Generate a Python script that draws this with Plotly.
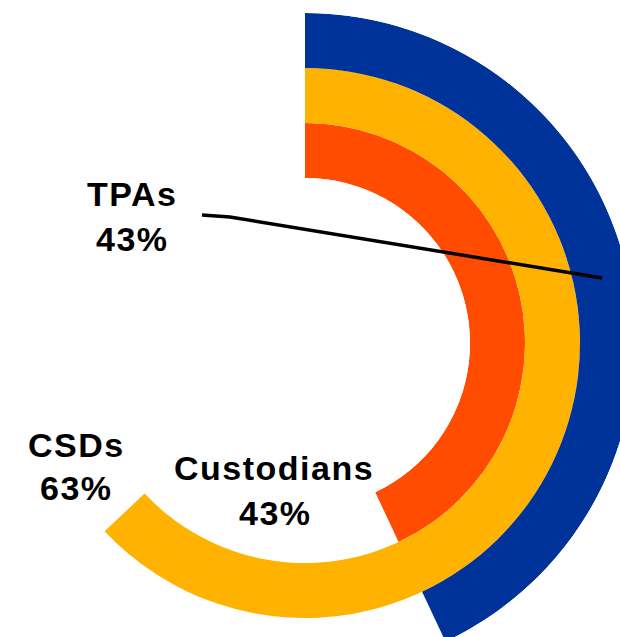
import math
import plotly.graph_objects as go

# ---- data ----
categories = ["Custodians", "CSDs", "TPAs"]
values = [43, 63, 43]          # percent of full circle
ring_index = [0, 1, 2]         # inner -> outer
colors = ["#FF4C00", "#FFB200", "#003399"]
pct_labels = ["43%", "63%", "43%"]

W, H = 640, 680   # canvas slightly larger than the window -> chart is cropped like the reference


def px(x):
    return x / W


def py(y):
    return 1 - y / H


fig = go.Figure()
for cat, v, b, c in zip(categories, values, ring_index, colors):
    span = v * 3.6
    fig.add_trace(go.Barpolar(
        r=[1], base=[b], theta=[span / 2], width=[span],
        marker=dict(color=c, line=dict(width=0)),
        name=cat, showlegend=False, hoverinfo="skip",
    ))

# polar area: center (305,343), outer radius 330, sector [-140, 90]
R, cx, cy = 330, 305, 343
xl = cx + R * math.cos(math.radians(220))
fig.update_layout(
    width=W, height=H,
    margin=dict(l=0, r=0, t=0, b=0),
    paper_bgcolor="white", plot_bgcolor="white",
    polar=dict(
        domain=dict(x=[px(xl), px(cx + R)], y=[py(cy + R), py(cy - R)]),
        sector=[-140, 90],
        hole=0.5,
        bgcolor="white",
        angularaxis=dict(visible=False, direction="clockwise", rotation=90,
                         showgrid=False, showline=False, thetaunit="degrees"),
        radialaxis=dict(visible=False, range=[0, 3], showgrid=False, showline=False),
    ),
)

font = dict(family="Liberation Sans, Arial, sans-serif", size=34, color="black")
label_pos = {"TPAs": ((132, 194), (132, 239)),
             "CSDs": ((76, 445), (76, 488)),
             "Custodians": ((274, 468), (275, 513))}
for cat, pct in zip(categories, pct_labels):
    (x1, y1), (x2, y2) = label_pos[cat]
    for txt, (x, y) in ((cat, (x1, y1)), (pct, (x2, y2))):
        fig.add_annotation(x=px(x), y=py(y), xref="paper", yref="paper",
                           text='<span style="letter-spacing:1.5px"><b>%s</b></span>' % txt,
                           showarrow=False, font=font,
                           xanchor="center", yanchor="middle")

# leader line from TPAs label to the outer ring
fig.add_shape(type="path", xref="paper", yref="paper",
              path="M %f,%f L %f,%f L %f,%f" % (px(202), py(215), px(230), py(217), px(602), py(278)),
              line=dict(color="black", width=3.5))

fig.write_html(
    "out.html",
    config={"displayModeBar": False},
    post_script="document.body.style.margin='0';document.body.style.overflow='hidden';"
                "document.documentElement.style.overflow='hidden';",
)
